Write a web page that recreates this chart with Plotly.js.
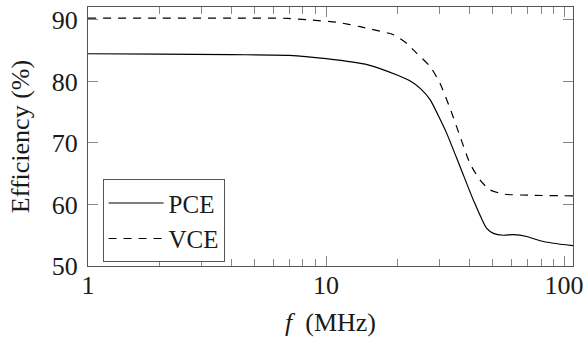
<!DOCTYPE html>
<html>
<head>
<meta charset="utf-8">
<script src="https://cdn.plot.ly/plotly-3.0.1.min.js"></script>
<style>html,body{margin:0;padding:0;background:#fff;}#chart{width:584px;height:337px;}</style>
</head>
<body>
<div id="chart"></div>
<script>
// Frequency (MHz) and efficiency (%)
const pceFreq = [1, 2, 4, 7, 10, 15, 20, 22.5, 25, 27.4, 30, 32.1, 36.6, 41.6, 47.3, 50.5, 55.6, 61.2, 69.7, 79.3, 90.2, 109];
const pceEff  = [84.5, 84.45, 84.35, 84.25, 83.7, 82.7, 81.0, 80.1, 78.8, 77.0, 74.0, 71.6, 66.1, 60.7, 56.1, 55.3, 55.0, 55.1, 54.8, 54.1, 53.7, 53.3];
const vceFreq = [1, 2, 4, 6.9, 8.5, 11.2, 13.9, 16.3, 19.2, 21.8, 24.0, 27.4, 30.1, 33.2, 36.6, 40.2, 44.3, 48.7, 55.6, 72.1, 109];
const vceEff  = [90.3, 90.3, 90.3, 90.25, 90.0, 89.6, 88.9, 88.3, 87.6, 86.2, 84.6, 82.4, 79.7, 75.6, 71.0, 66.7, 64.0, 62.4, 61.7, 61.5, 61.4];
const seriesNames = ["PCE", "VCE"];
const xTickVals = [1, 10, 100];
const xTickText = ["1", "10", "100"];
const yTickVals = [50, 60, 70, 80, 90];

const serif = "Liberation Serif, Times New Roman, serif";
const txt = "#1a1a1a";
const frame = "#555";

const traces = [
  {x: pceFreq, y: pceEff, name: seriesNames[0], mode: "lines", line: {color: "#000", width: 1.2, shape: "spline", smoothing: 0.6}},
  {x: vceFreq, y: vceEff, name: seriesNames[1], mode: "lines", line: {color: "#000", width: 1.2, dash: "8px,7px", shape: "spline", smoothing: 0.6}}
];

const layout = {
  width: 584, height: 337,
  margin: {l: 88, r: 11, t: 7, b: 71},
  paper_bgcolor: "#fff", plot_bgcolor: "#fff",
  font: {family: serif, size: 26, color: txt},
  showlegend: true,
  legend: {
    x: 0.03, y: 0.335, xanchor: "left", yanchor: "top",
    bordercolor: frame, borderwidth: 1, bgcolor: "#fff",
    font: {family: serif, size: 25, color: txt},
    itemwidth: 55,
    tracegroupgap: 0
  },
  xaxis: {
    type: "log", range: [0, Math.log10(109)],
    tickmode: "array", tickvals: xTickVals, ticktext: xTickText,
    ticks: "inside", ticklen: 10, tickcolor: "#888", tickwidth: 1,
    minor: {ticks: "inside", ticklen: 7, tickcolor: "#888", tickwidth: 1, dtick: "D1", showgrid: false},
    showline: true, linecolor: frame, linewidth: 1, mirror: "ticks",
    showgrid: false, zeroline: false,
    tickfont: {family: serif, size: 26, color: txt},
    title: {text: "<i>f</i>  (MHz)", font: {family: serif, size: 26, color: txt}, standoff: 18}
  },
  yaxis: {
    range: [50, 92.1],
    tickmode: "array", tickvals: yTickVals,
    ticks: "inside", ticklen: 10, tickcolor: "#888", tickwidth: 1,
    showline: true, linecolor: frame, linewidth: 1, mirror: "ticks",
    showgrid: false, zeroline: false,
    tickfont: {family: serif, size: 26, color: txt},
    ticklabelstandoff: 4,
    title: {text: "Efficiency (%)", font: {family: serif, size: 26, color: txt}, standoff: 14}
  }
};

function nudge(sel, dy) {
  document.querySelectorAll(sel).forEach(function (el) {
    const y = parseFloat(el.getAttribute("y") || "0");
    el.setAttribute("y", String(y + dy));
  });
}

Plotly.newPlot("chart", traces, layout, {staticPlot: true, displayModeBar: false}).then(function () {
  nudge("#chart .xtick text", -4);
});
</script>
</body>
</html>
